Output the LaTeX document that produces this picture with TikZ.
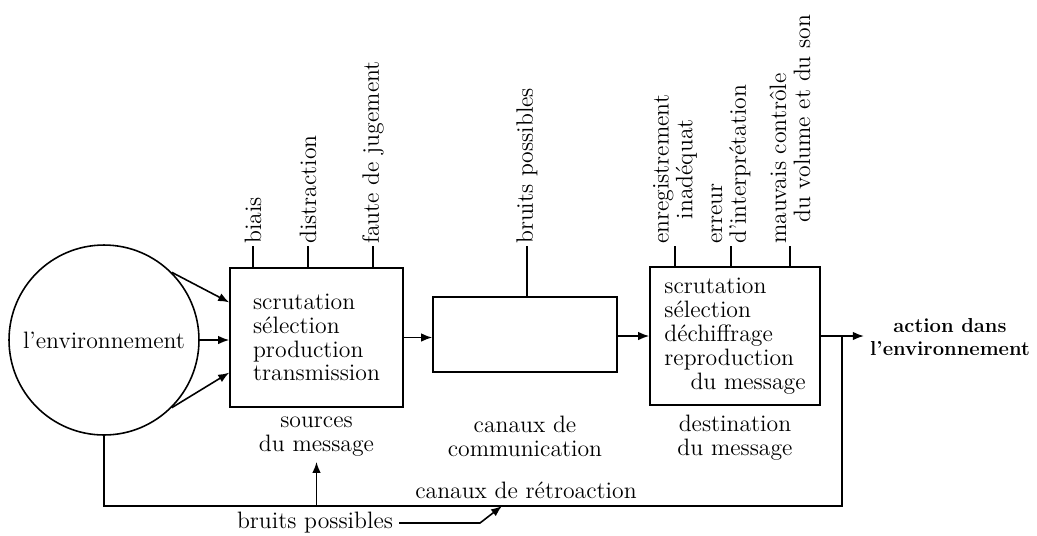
\documentclass[tikz,border=0pt]{standalone}
\usepackage{fontspec}
\usepackage{tikz}
\usetikzlibrary{arrows.meta, positioning, calc}

\tikzset{
    bloc/.style={draw, line width=0.9pt, inner sep=0pt},
    lab/.style={align=center, inner sep=0pt},
    bruit/.style={rotate=90, anchor=west, inner sep=1pt},
    fleche/.style={-{Latex[length=2.2mm,width=1.7mm]}, line width=0.9pt},
    trait/.style={line width=0.9pt}
}

\begin{document}
\begin{tikzpicture}[x=0.02cm, y=-0.02cm, font=\fontsize{13.5}{13.6}\selectfont]
    \useasboundingbox (0,0) rectangle (1037,535);

    % environnement et blocs
    \node[
        draw,
        circle,
        line width=0.9pt,
        minimum size=3.8cm,
        inner sep=0pt
    ] (env) at (104,340) {l'environnement};
    \node[
        bloc,
        align=left,
        minimum width=3.46cm,
        minimum height=2.78cm
    ] (src) at (316.5,337.5) {scrutation\\sélection\\production\\transmission};
    \node[
        bloc,
        minimum width=3.68cm,
        minimum height=1.5cm
    ] (canal) at (525,334.5) {};
    \node[
        bloc,
        align=left,
        minimum width=3.4cm,
        minimum height=2.76cm
    ] (dest) at (735,336) {scrutation\\sélection\\déchiffrage\\reproduction\\\hspace*{1.1em}du message};

    % noms des blocs
    \node[lab, below=5pt of src] (srclab) {sources\\du message};
    \node[lab] (canallab) at (canal |- srclab) {canaux de\\communication};
    \node[lab, below=5pt of dest] (destlab) {destination\\du message};

    % fleches
    \draw[fleche] (env.45) -- ($(src.north west)!0.25!(src.south west)$);
    \draw[fleche] (env.east) -- (env.east -| src.west);
    \draw[fleche] (env.-45) -- ($(src.north west)!0.75!(src.south west)$);
    \draw[fleche] (src.east) -- (src.east -| canal.west);
    \draw[fleche] (canal.east |- dest.west) -- (dest.west);

    \node[
        font=\bfseries\fontsize{11.5}{13}\selectfont,
        align=center
    ] (act) at (950,337) {action dans\\l'environnement};
    \draw[fleche] (dest.east) -- (dest.east -| act.west);

    % bruits
    \node[bruit] (biais) at (253,246) {biais};
    \node[bruit] (distr) at (308,246) {distraction};
    \node[bruit] (faute) at (373,246) {faute de jugement};
    \node[bruit] (bruitcanal) at (527,246) {bruits possibles};
    \node[bruit, align=center] (enreg) at (675,246) {enregistrement\\inadéquat};
    \node[bruit, align=left] (erreur) at (731,246) {erreur\\d'interprétation};
    \node[bruit, align=left] (mauvais) at (790,246) {mauvais contrôle\\\hspace*{0.9em}du volume et du son};

    \foreach \n in {biais, distr, faute}
        \draw[trait] (src.north -| \n.west) -- (\n.west);
    \draw[trait] (canal.north -| bruitcanal.west) -- (bruitcanal.west);
    \foreach \n in {enreg, erreur, mauvais}
        \draw[trait] (dest.north -| \n.west) -- (\n.west);

    % retroaction
    \coordinate (coin) at (842,506);
    \draw[trait] (dest.east -| coin) -- (coin) -| (env.south);
    \node (retro) at (526,490) {canaux de rétroaction};

    \node (bp) at (315,523) {bruits possibles};
    \draw[fleche, shorten >=3pt] (srclab.south |- coin) -- (srclab.south);
    \coordinate (coude) at (480,527);
    \coordinate (pointe) at (502,506);
    \draw[fleche] (bp.east) -- (bp.east -| coude) -- (pointe);
\end{tikzpicture}
\end{document}
